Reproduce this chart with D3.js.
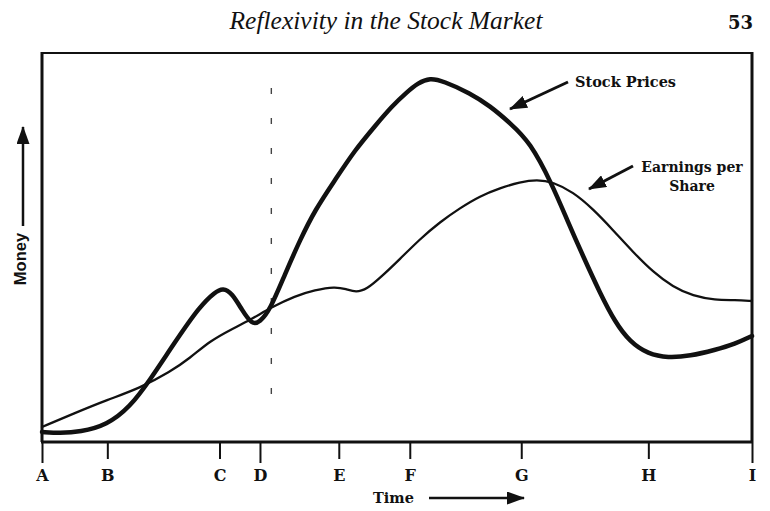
<!DOCTYPE html>
<html>
<head>
<meta charset="utf-8">
<script src="https://cdn.jsdelivr.net/npm/d3@7"></script>
<style>
  html, body { margin: 0; padding: 0; background: #fff; }
  svg { display: block; }
</style>
</head>
<body>
<svg id="chart" width="770" height="511"></svg>
<script>
// ---- Data (time in arbitrary units 0–100, money in arbitrary units 0–100) ----
const tickLabels = ["A", "B", "C", "D", "E", "F", "G", "H", "I"];
const tickTimes  = [0, 9.2, 25.0, 30.7, 41.8, 51.8, 67.5, 85.4, 100];
const longTicks  = ["A", "D", "I"];
const boomMarkTime = 32.3; // dashed vertical line

const stockTime  = [0, 2.54, 5.35, 9.15, 12.39, 15.21, 18.73, 22.25, 24.37, 25.49, 26.76, 28.17, 29.58, 30.70, 32.11, 34.23, 36.34, 38.45, 41.27, 44.08, 46.90, 49.30, 51.41, 52.96, 54.65, 56.48, 60.28, 63.10, 65.92, 68.73, 71.83, 74.08, 76.20, 78.59, 80.70, 82.82, 85.35, 88.17, 91.27, 94.79, 97.61, 100];
const stockValue = [2.57, 2.31, 2.57, 4.37, 9.0, 15.94, 25.71, 34.96, 38.56, 39.60, 38.30, 33.93, 30.10, 30.85, 33.93, 43.19, 51.93, 59.64, 67.35, 75.06, 81.23, 86.38, 89.97, 92.30, 93.60, 92.80, 89.72, 86.38, 82.01, 77.12, 66.32, 56.56, 47.81, 38.30, 30.85, 25.71, 22.62, 21.60, 22.11, 23.65, 25.19, 27.25];

const epsTime  = [0, 4.65, 9.15, 13.80, 18.03, 20.85, 23.66, 26.48, 29.30, 32.39, 35.63, 38.45, 41.27, 42.82, 44.23, 45.77, 47.61, 50.42, 53.24, 56.06, 58.87, 61.69, 64.51, 67.32, 69.72, 71.97, 74.79, 77.61, 80.42, 83.24, 86.06, 88.87, 91.69, 94.79, 97.61, 100];
const epsValue = [3.86, 7.46, 10.80, 13.88, 17.99, 21.59, 25.96, 28.79, 31.36, 34.70, 37.53, 39.07, 39.95, 39.33, 38.40, 39.33, 42.16, 47.04, 52.19, 56.56, 60.15, 63.24, 65.30, 66.84, 67.45, 66.84, 64.27, 59.90, 54.50, 48.84, 43.70, 39.85, 37.53, 36.50, 36.50, 36.25];

const titleText = "Reflexivity in the Stock Market";
const pageNumber = "53";

// ---- Layout ----
const svg = d3.select("#chart");
const plotLeft = 42, plotRight = 752, plotTop = 53, plotBottom = 442;

const x = d3.scaleLinear().domain([0, 100]).range([plotLeft, plotRight]);
const y = d3.scaleLinear().domain([0, 100]).range([plotBottom, plotTop]);

const ink = "#111";
const serif = "'DejaVu Serif', 'Liberation Serif', serif";

// Header
svg.append("text")
  .attr("x", 386).attr("y", 29)
  .attr("text-anchor", "middle")
  .attr("font-family", "'Liberation Serif', serif")
  .attr("font-style", "italic")
  .attr("font-size", 25.5)
  .attr("fill", ink)
  .text(titleText);

svg.append("text")
  .attr("x", 753).attr("y", 29)
  .attr("text-anchor", "end")
  .attr("font-family", serif)
  .attr("font-weight", "bold")
  .attr("font-size", 18)
  .attr("fill", ink)
  .text(pageNumber);

// Frame (top, left, right)
svg.append("line").attr("x1", plotLeft - 1).attr("x2", plotRight + 1).attr("y1", plotTop).attr("y2", plotTop)
  .attr("stroke", ink).attr("stroke-width", 2);
svg.append("line").attr("x1", plotLeft).attr("x2", plotLeft).attr("y1", plotTop - 1).attr("y2", plotBottom)
  .attr("stroke", ink).attr("stroke-width", 3);
svg.append("line").attr("x1", plotRight).attr("x2", plotRight).attr("y1", plotTop - 1).attr("y2", plotBottom)
  .attr("stroke", ink).attr("stroke-width", 3);

// Bottom axis
const xAxis = d3.axisBottom(x)
  .tickValues(tickTimes)
  .tickFormat((d, i) => tickLabels[i])
  .tickSize(18)
  .tickPadding(10);

const axisG = svg.append("g")
  .attr("transform", `translate(0,${plotBottom})`)
  .call(xAxis);

axisG.select(".domain")
  .attr("d", `M${plotLeft - 1},0H${plotRight + 1}`)
  .attr("stroke", ink).attr("stroke-width", 3);
axisG.selectAll(".tick line")
  .attr("stroke", ink).attr("stroke-width", 2)
  .attr("y2", (d, i) => longTicks.includes(tickLabels[i]) ? 21 : 17);
axisG.selectAll(".tick text")
  .attr("font-family", serif)
  .attr("font-weight", "bold")
  .attr("font-size", 16)
  .attr("fill", ink);

// Arrowhead marker
const defs = svg.append("defs");
defs.append("marker")
  .attr("id", "head")
  .attr("viewBox", "0 0 18 13")
  .attr("refX", 17).attr("refY", 6.5)
  .attr("markerWidth", 18).attr("markerHeight", 13)
  .attr("markerUnits", "userSpaceOnUse")
  .attr("orient", "auto")
  .append("path").attr("d", "M0,0 L18,6.5 L0,13 Z").attr("fill", ink);

// Axis titles
svg.append("text")
  .attr("x", 373).attr("y", 503)
  .attr("font-family", serif)
  .attr("font-weight", "bold")
  .attr("font-size", 14.5)
  .attr("fill", ink)
  .text("Time");
svg.append("line")
  .attr("x1", 429).attr("y1", 498).attr("x2", 524).attr("y2", 498)
  .attr("stroke", ink).attr("stroke-width", 2.5)
  .attr("marker-end", "url(#head)");

svg.append("text")
  .attr("transform", "translate(26,259) rotate(-90)")
  .attr("text-anchor", "middle")
  .attr("font-family", "'Liberation Sans', Arial, sans-serif")
  .attr("font-weight", "bold")
  .attr("font-size", 16.5)
  .attr("fill", ink)
  .text("Money");
svg.append("line")
  .attr("x1", 23).attr("y1", 226).attr("x2", 23).attr("y2", 127)
  .attr("stroke", ink).attr("stroke-width", 2.5)
  .attr("marker-end", "url(#head)");

// Dashed boom marker
svg.append("line")
  .attr("x1", x(boomMarkTime)).attr("x2", x(boomMarkTime))
  .attr("y1", 88).attr("y2", 410)
  .attr("stroke", "#444").attr("stroke-width", 1.4)
  .attr("stroke-dasharray", "6,24");

// Curves
const line = d3.line()
  .x(d => x(d[0]))
  .y(d => y(d[1]))
  .curve(d3.curveBasis);

const epsData = epsTime.map((t, i) => [t, epsValue[i]]);
const stockData = stockTime.map((t, i) => [t, stockValue[i]]);

svg.append("path")
  .datum(epsData)
  .attr("d", line)
  .attr("fill", "none").attr("stroke", ink)
  .attr("stroke-width", 2.3).attr("stroke-linecap", "round");

svg.append("path")
  .datum(stockData)
  .attr("d", line)
  .attr("fill", "none").attr("stroke", ink)
  .attr("stroke-width", 4.5).attr("stroke-linecap", "round").attr("stroke-linejoin", "round");

// Annotations
svg.append("text")
  .attr("x", 575).attr("y", 87)
  .attr("font-family", serif)
  .attr("font-weight", "bold")
  .attr("font-size", 14.5)
  .attr("fill", ink)
  .text("Stock Prices");
svg.append("line")
  .attr("x1", 568).attr("y1", 82).attr("x2", 510).attr("y2", 109)
  .attr("stroke", ink).attr("stroke-width", 3)
  .attr("marker-end", "url(#head)");

const epsLabel = svg.append("text")
  .attr("font-family", serif)
  .attr("font-weight", "bold")
  .attr("font-size", 14)
  .attr("fill", ink)
  .attr("text-anchor", "middle");
epsLabel.append("tspan").attr("x", 692).attr("y", 172).text("Earnings per");
epsLabel.append("tspan").attr("x", 692).attr("y", 191).text("Share");
svg.append("line")
  .attr("x1", 633).attr("y1", 166).attr("x2", 589).attr("y2", 189)
  .attr("stroke", ink).attr("stroke-width", 3)
  .attr("marker-end", "url(#head)");
</script>
</body>
</html>
